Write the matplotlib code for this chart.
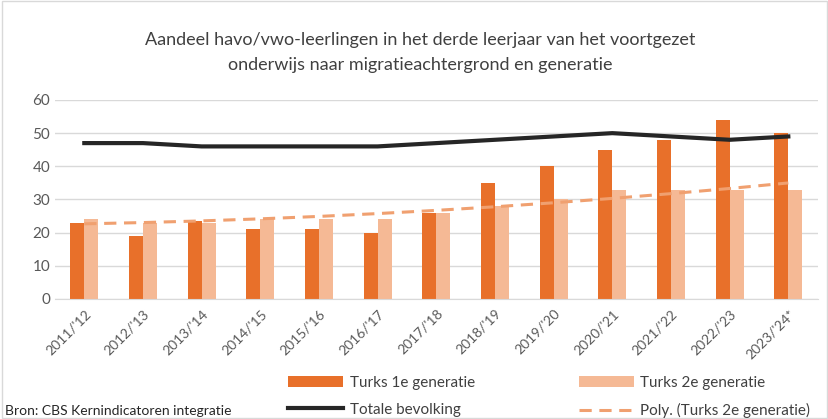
import numpy as np
import matplotlib.pyplot as plt
from matplotlib.patches import Rectangle

plt.rcParams['font.family'] = ['Lato', 'DejaVu Sans']

jaren = ["2011/'12", "2012/'13", "2013/'14", "2014/'15", "2015/'16", "2016/'17",
         "2017/'18", "2018/'19", "2019/'20", "2020/'21", "2021/'22", "2022/'23",
         "2023/'24*"]
turks_1e = [23, 19, 23.5, 21, 21, 20, 26, 35, 40, 45, 48, 54, 50]
turks_2e = [24, 23, 23, 24, 24, 24, 26, 28, 30, 33, 33, 33, 33]
totaal = [47, 47, 46, 46, 46, 46, 47, 48, 49, 50, 49, 48, 49]

x = np.arange(len(jaren))
# polynomial (2nd order) trendline like Excel
coef = np.polyfit(x, turks_2e, 2)
trend = np.polyval(coef, x)

fig = plt.figure(figsize=(8.29, 4.19), dpi=100)
fig.patches.append(Rectangle((0.003, 0.003), 0.994, 0.994, transform=fig.transFigure,
                             fill=False, edgecolor='#d9d9d9', linewidth=1))

ax = fig.add_axes([0.0663, 0.2864, 0.920, 0.475])

w = 0.24
b1 = ax.bar(x - w / 2, turks_1e, width=w, color='#E8702A', label='Turks 1e generatie', zorder=2)
b2 = ax.bar(x + w / 2, turks_2e, width=w, color='#F5B995', label='Turks 2e generatie', zorder=2)
l1, = ax.plot(x, totaal, color='#262626', linewidth=3, label='Totale bevolking', zorder=3)
l2, = ax.plot(x, trend, color='#F0A070', linewidth=2.2, linestyle=(0, (4, 2.5)),
              label='Poly. (Turks 2e generatie)', zorder=3)

ax.set_xlim(-0.5, len(jaren) - 0.5)
ax.set_ylim(0, 60)
ax.set_yticks(range(0, 61, 10))
ax.yaxis.grid(True, color='#d9d9d9', linewidth=1, zorder=0)
ax.set_axisbelow(True)
for s in ['top', 'right', 'left']:
    ax.spines[s].set_visible(False)
ax.spines['bottom'].set_color('#d9d9d9')
ax.tick_params(axis='both', length=0, colors='#595959', labelsize=11)
ax.set_xticks(x)
ax.set_xticklabels(jaren, rotation=45, ha='right', rotation_mode='anchor', fontsize=10)
ax.tick_params(axis='x', pad=6)

fig.text(0.507, 0.905, 'Aandeel havo/vwo-leerlingen in het derde leerjaar van het voortgezet',
         ha='center', va='center', fontsize=13, color='#404040')
fig.text(0.507, 0.845, 'onderwijs naar migratieachtergrond en generatie',
         ha='center', va='center', fontsize=13, color='#404040')

leg_kw = dict(frameon=False, fontsize=11, handlelength=3.6, handletextpad=0.4,
              labelspacing=0.85, borderaxespad=0, borderpad=0, labelcolor='#404040')
fig.legend([b1, l1], ['Turks 1e generatie', 'Totale bevolking'],
           loc='upper left', bbox_to_anchor=(0.348, 0.103), **leg_kw)
fig.legend([b2, l2], ['Turks 2e generatie', 'Poly. (Turks 2e generatie)'],
           loc='upper left', bbox_to_anchor=(0.698, 0.103), **leg_kw)

fig.text(0.006, 0.02, 'Bron: CBS Kernindicatoren integratie', ha='left', va='center',
         fontsize=10, color='#262626')

fig.savefig('out.png', dpi=100)
